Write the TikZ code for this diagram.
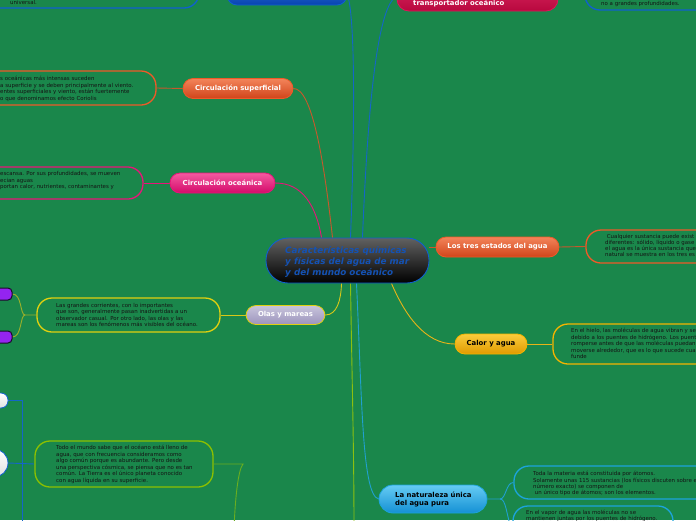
\documentclass[tikz,border=0pt]{standalone}
\usepackage{fontspec}
\setmainfont{DejaVu Sans}
\usetikzlibrary{calc}
\definecolor{bgc}{HTML}{1A874B}
\definecolor{txc}{HTML}{141414}
\definecolor{orbd}{HTML}{EE5A28}
\definecolor{ortop}{HTML}{F3845A}
\definecolor{orbot}{HTML}{D0441A}
\definecolor{orln}{HTML}{C8582C}
\definecolor{pkbd}{HTML}{E8147A}
\definecolor{pktop}{HTML}{F45AA0}
\definecolor{pkbot}{HTML}{D40A6A}
\definecolor{crbd}{HTML}{E0145A}
\definecolor{crtop}{HTML}{DA2860}
\definecolor{crbot}{HTML}{B8083E}
\definecolor{blbd}{HTML}{1060D0}
\definecolor{bltop}{HTML}{2A6AD8}
\definecolor{blbot}{HTML}{0844B0}
\definecolor{blln}{HTML}{1466C8}
\definecolor{ctrtxt}{HTML}{1452B4}
\definecolor{lvtop}{HTML}{C8C4DC}
\definecolor{lvbot}{HTML}{9C94BC}
\definecolor{yebd}{HTML}{E0D010}
\definecolor{yeln}{HTML}{D8C818}
\definecolor{olln}{HTML}{9CB02A}
\definecolor{ambd}{HTML}{F4B400}
\definecolor{amtop}{HTML}{FACC3C}
\definecolor{ambot}{HTML}{E09A00}
\definecolor{amln}{HTML}{E8B418}
\definecolor{grln}{HTML}{8CC010}
\definecolor{grbd}{HTML}{8CC000}
\definecolor{tdln}{HTML}{6AAE20}
\definecolor{cybd}{HTML}{1CA4DC}
\definecolor{cytop}{HTML}{66CCF4}
\definecolor{cybot}{HTML}{1490D4}
\definecolor{cyln}{HTML}{20A0D0}
\definecolor{pubd}{HTML}{1A0A2A}
\definecolor{pufill}{HTML}{9424F0}
\newcommand\titlef{\fontsize{6.9}{8}\selectfont\bfseries}
\pgfdeclarelayer{bglayer}
\pgfdeclarelayer{connlayer}
\pgfsetlayers{bglayer,connlayer,main}
\tikzset{
  pill/.style={draw, rounded corners=#1, inner sep=0pt, line width=0.8pt, font=\titlef, text=white},
  pill/.default=10pt,
  tbox/.style={draw, rounded corners=15pt, line width=1.3pt, inner sep=0pt},
  txt/.style={font=\fontsize{5.45}{#1}\selectfont, text=txc, align=left, inner sep=0pt, anchor=base west},
  txt/.default=6.5,
  conn/.style={line width=0.9pt},
}
\begin{document}
\begin{tikzpicture}[x=1pt,y=-1pt]
\useasboundingbox (0,0) rectangle (696,520);
\begin{pgfonlayer}{bglayer}
\fill[bgc] (0,0) rectangle (696,520);
\end{pgfonlayer}
\clip (0,0) rectangle (696,520);

% top row
\node[tbox, draw=blbd, minimum width=229, minimum height=48] (tlb) at (84.5,-16) {};
\node[txt] (tlt) at (10,4.8) {universal.};
\node[pill, draw=blbd, top color=bltop, bottom color=blbot, minimum width=120, minimum height=20] (tbn) at (287,-5) {};
\node[pill=12pt, draw=crbd, top color=crtop, bottom color=crbot, minimum width=161, minimum height=29] (tpn) at (477.5,-3.5) {};
\node[txt, font=\titlef, text=white] (tpt) at (413,5) {transportador oceánico};
\node[tbox, draw=blbd, minimum width=175, minimum height=50] (trb) at (672.5,-15) {};
\node[txt] (trt) at (601,5.8) {no a grandes profundidades.};

% Circulacion superficial
\node[pill, draw=orbd, top color=ortop, bottom color=orbot, minimum width=110, minimum height=20] (cs) at (238,88.5) {Circulación superficial};
\node[tbox, draw=orbd, minimum width=196, minimum height=34] (csb) at (58,88) {};
\node[txt=6.4] (cst) at (0,100) {s oceánicas más intensas suceden\\a superficie y se deben principalmente al viento.\\entes superficiales y viento, están fuertemente\\o que denominamos efecto Coriolis};

% Circulacion oceanica
\node[pill, draw=pkbd, top color=pktop, bottom color=pkbot, minimum width=105, minimum height=20] (co) at (222.5,183) {Circulación oceánica};
\node[tbox, draw=pkbd, minimum width=183, minimum height=32] (cob) at (51.5,183) {};
\node[txt=6.5] (cot) at (0,188.8) {escansa. Por sus profundidades, se mueven\\ecian aguas\\portan calor, nutrientes, contaminantes y};

% center
\node[draw=blbd, line width=0.9pt, rounded corners=22pt, top color=black!62, bottom color=black, minimum width=163, minimum height=45, inner sep=0pt] (ctr) at (347.5,260.5) {};
\node[txt, font=\fontsize{8.8}{11}\selectfont\bfseries\itshape, text=ctrtxt] (ctt) at (285,275) {Características químicas\\y físicas del agua de mar\\y del mundo oceánico};

% Los tres estados
\node[pill, draw=orbd, top color=ortop, bottom color=orbot, minimum width=123, minimum height=20] (lt) at (497.5,247) {Los tres estados del agua};
\node[tbox, draw=orbd, minimum width=174, minimum height=33] (ltb) at (673,246.5) {};
\node[txt=6] (ltt) at (605,256.5) {\ Cualquier sustancia puede exist\\diferentes: sólido, líquido o gase\\el agua es la única sustancia que\\natural se muestra en los tres es};

% Olas y mareas
\node[pill, draw=yebd, top color=lvtop, bottom color=lvbot, minimum width=79, minimum height=19] (ol) at (285.5,315) {Olas y mareas};
\node[tbox, draw=yebd, minimum width=183, minimum height=34] (olb) at (128.5,315) {};
\node[txt=6.6] (olt) at (56,326.8) {Las grandes corrientes, con lo importantes\\que son, generalmente pasan inadvertidas a un\\observador casual. Por otro lado, las olas y las\\mareas son los fenómenos más visibles del océano.};
\node[draw=pubd, fill=pufill, line width=1pt, rounded corners=4pt, minimum width=32, minimum height=12, inner sep=0pt] (p1) at (-4,294) {};
\node[draw=pubd, fill=pufill, line width=1pt, rounded corners=4pt, minimum width=32, minimum height=12, inner sep=0pt] (p2) at (-4,337) {};

% Calor y agua
\node[pill, draw=ambd, top color=amtop, bottom color=ambot, text=black, minimum width=72, minimum height=20] (ca) at (491,344) {Calor y agua};
\node[tbox, draw=ambd, minimum width=187, minimum height=40] (cab) at (646.5,344) {};
\node[txt=6.6] (cat) at (571,358.9) {En el hielo, las moléculas de agua vibran y se\\debido a los puentes de hidrógeno. Los puentes\\romperse antes de que las moléculas puedan\\moverse alrededor, que es lo que sucede cua\\funde};

% bottom left
\node[draw=blbd, line width=0.8pt, rounded corners=7pt, top color=white, bottom color=black!12, minimum width=38, minimum height=15, inner sep=0pt] (w1) at (-11,400.5) {};
\node[draw=blbd, line width=0.8pt, rounded corners=14pt, top color=white, bottom color=black!12, minimum width=48, minimum height=28, inner sep=0pt] (w2) at (-16,463) {};
\node[tbox, draw=grbd, minimum width=178, minimum height=46] (tdb) at (124,464) {};
\node[txt=6.6] (tdt) at (56,482.5) {Todo el mundo sabe que el océano está lleno de\\agua, que con frecuencia consideramos como\\algo común porque es abundante. Pero desde\\una perspectiva cósmica, se piensa que no es tan\\común. La Tierra es el único planeta conocido\\con agua líquida en su superficie.};

% La naturaleza
\node[pill=14pt, draw=cybd, top color=cytop, bottom color=cybot, minimum width=108, minimum height=28] (nat) at (433,499) {};
\node[txt, font=\fontsize{6.9}{7.7}\selectfont\bfseries, text=black] (natt) at (395,505) {La naturaleza única\\del agua pura};
\node[tbox, draw=cybd, minimum width=246, minimum height=33] (nb1) at (637,482.5) {};
\node[txt=6.3] (nb1t) at (533,494.7) {Toda la materia está constituida por átomos.\\Solamente unas 115 sustancias (los físicos discuten sobre el\\número exacto) se componen de\\\ un único tipo de átomos; son los elementos.};
\node[tbox, draw=cybd, minimum width=160, minimum height=34] (nb2) at (593,523) {};
\node[txt=6] (nb2t) at (526,520) {En el vapor de agua las moléculas no se\\mantienen juntas por los puentes de hidrógeno.};

% free-end coordinates
\coordinate (oj) at (25,315);
\coordinate (gend) at (354,530);
\coordinate (tj) at (243,464);
\coordinate (tend) at (234,530);
\coordinate (bj) at (22,400.5);
\coordinate (bend) at (22,530);
\coordinate (nj) at (500,499);

\begin{pgfonlayer}{connlayer}
\clip (0,0) rectangle (696,520);
\draw[conn, orln] (csb.east) -- (cs.west);
\draw[conn, orln] (cs.east) .. controls (312,88) and (324,160) .. ([xshift=-15pt]ctr.north);
\draw[conn, pkbd] (cob.east) -- (co.west);
\draw[conn, pkbd] (co.east) .. controls (302,183) and (316,205) .. ([xshift=-26pt]ctr.north);
\draw[conn, blln] ([xshift=3pt]ctr.north) .. controls (355,120) and (355,15) .. (tbn.east);
\draw[conn, blln] ([xshift=15pt]ctr.north) .. controls (368,100) and (378,5) .. (tpn.west);
\draw[conn, orln] (lt.west) -- (lt.west -| ctr.east);
\draw[conn, orln] (lt.east) -- (ltb.west);
\draw[conn, yeln] ([xshift=-6pt]ctr.south) .. controls (341,300) and (337,315) .. (ol.east);
\draw[conn, yeln] (olb.east) -- (ol.west);
\draw[conn, olln] (olb.west) -- (oj) .. controls (20,315) and (22,294) .. (p1.east);
\draw[conn, olln] (oj) .. controls (20,315) and (22,337) .. (p2.east);
\draw[conn, grln] ([xshift=3pt]ctr.south) .. controls (352,380) and (354,450) .. (gend);
\draw[conn, cyln] ([xshift=9pt]ctr.south) .. controls (362,400) and (362,495) .. (nat.west);
\draw[conn, amln] ([xshift=44pt]ctr.south) .. controls (405,315) and (425,344) .. (ca.west);
\draw[conn, amln] (ca.east) -- (cab.west);
\draw[conn, tdln] (tdb.east) -- (tj) .. controls (238,470) and (235,500) .. (tend);
\draw[conn, blln] (w1.east) -- (bj) -- (bend);
\draw[conn, blln] (w2.east) -- (tdb.west);
\draw[conn, cyln] (nat.east) -- (nj) .. controls (506,499) and (506,482.5) .. (nb1.west);
\draw[conn, cyln] (nj) .. controls (506,499) and (506,513) .. ([yshift=-10pt]nb2.west);
\end{pgfonlayer}
\end{tikzpicture}
\end{document}
